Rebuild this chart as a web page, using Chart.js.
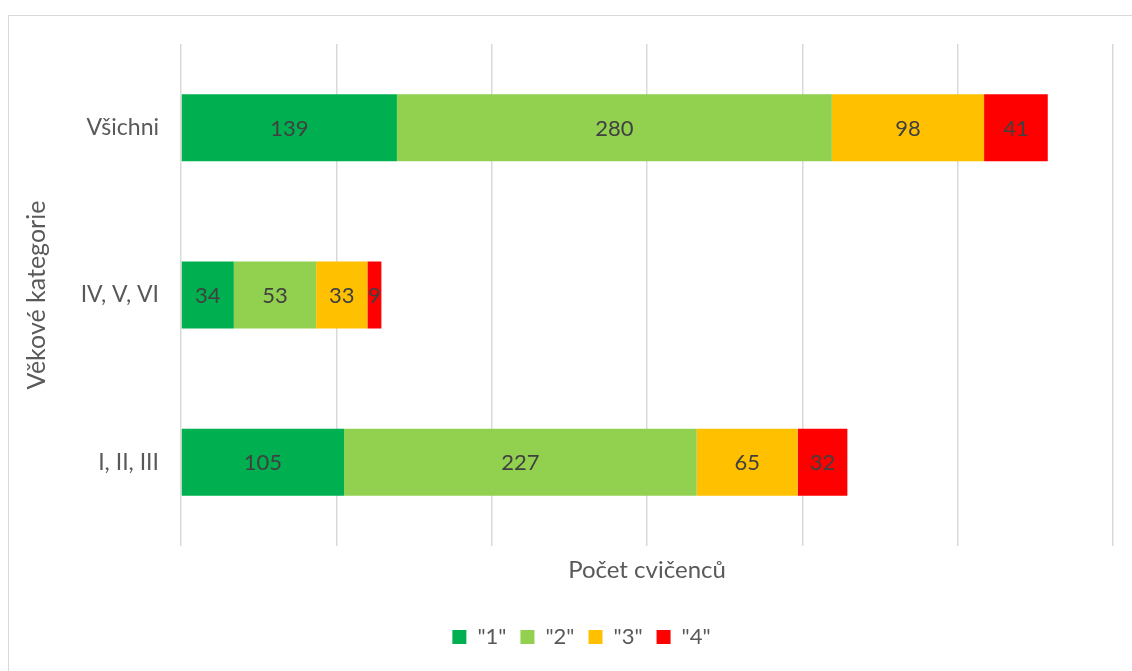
<!DOCTYPE html>
<html>
<head>
<meta charset="utf-8">
<script src="https://cdn.jsdelivr.net/npm/chart.js@4/dist/chart.umd.min.js"></script>
<style>
  html, body { margin: 0; padding: 0; background: #fff; }
  #wrap { position: absolute; left: 0; top: 0; width: 1132px; height: 671px; }
  #frame { position: absolute; left: 8px; top: 15px; width: 1140px; height: 670px; border: 1px solid #d9d9d9; box-sizing: border-box; }
  canvas { position: absolute; left: 0; top: 0; }
</style>
</head>
<body>
<div id="wrap">
  <div id="frame"></div>
  <canvas id="c" width="1132" height="671"></canvas>
</div>
<script>
const categories = ["Všichni", "IV, V, VI", "I, II, III"];
const seriesNames = ['"1"', '"2"', '"3"', '"4"'];
const grade1 = [139, 34, 105];
const grade2 = [280, 53, 227];
const grade3 = [98, 33, 65];
const grade4 = [41, 9, 32];
const colors = ["#00B050", "#92D050", "#FFC000", "#FF0000"];
const xTitle = "Počet cvičenců";
const yTitle = "Věkové kategorie";

const FONT = "Lato, 'Liberation Sans', sans-serif";

const labelPlugin = {
  id: 'barLabels',
  afterDatasetsDraw(chart) {
    const ctx = chart.ctx;
    ctx.save();
    ctx.font = "22px " + FONT;
    ctx.fillStyle = "#404040";
    ctx.textAlign = "center";
    ctx.textBaseline = "middle";
    chart.data.datasets.forEach((ds, di) => {
      const meta = chart.getDatasetMeta(di);
      meta.data.forEach((el, i) => {
        const cx = (el.x + el.base) / 2;
        ctx.fillText(String(ds.data[i]), cx, el.y + 1);
      });
    });
    ctx.restore();
  }
};

const seriesData = [grade1, grade2, grade3, grade4];
new Chart(document.getElementById('c'), {
  type: 'bar',
  data: {
    labels: categories,
    datasets: seriesNames.map((n, k) => ({
      label: n,
      data: seriesData[k],
      backgroundColor: colors[k],
      borderWidth: 0,
      barPercentage: 0.8,
      categoryPercentage: 0.5
    }))
  },
  options: {
    indexAxis: 'y',
    responsive: false,
    animation: false,
    devicePixelRatio: 1,
    layout: { padding: { left: 50, right: 19, top: 44, bottom: 13 } },
    plugins: {
      legend: {
        position: 'bottom',
        labels: {
          boxWidth: 14, boxHeight: 14, padding: 14,
          color: "#595959",
          font: { size: 22, family: FONT }
        }
      },
      tooltip: { enabled: false }
    },
    scales: {
      x: {
        stacked: true,
        min: 0, max: 600,
        ticks: { display: false, stepSize: 100 },
        grid: { color: "#d9d9d9", lineWidth: 1.5, drawTicks: false },
        border: { display: false },
        title: { display: true, text: xTitle, color: "#595959", font: { size: 24, family: FONT }, padding: { top: 8, bottom: 27 } },
        afterFit(scale) { scale.height = 66; }
      },
      y: {
        stacked: true,
        ticks: { color: "#595959", font: { size: 23, family: FONT }, padding: 14 },
        grid: { display: false },
        border: { display: false },
        title: { display: true, text: yTitle, color: "#595959", font: { size: 25, family: FONT }, padding: { top: -28, bottom: 0 } },
        afterFit(scale) { scale.width = 181 - 50; }
      }
    }
  },
  plugins: [labelPlugin]
});
</script>
</body>
</html>
